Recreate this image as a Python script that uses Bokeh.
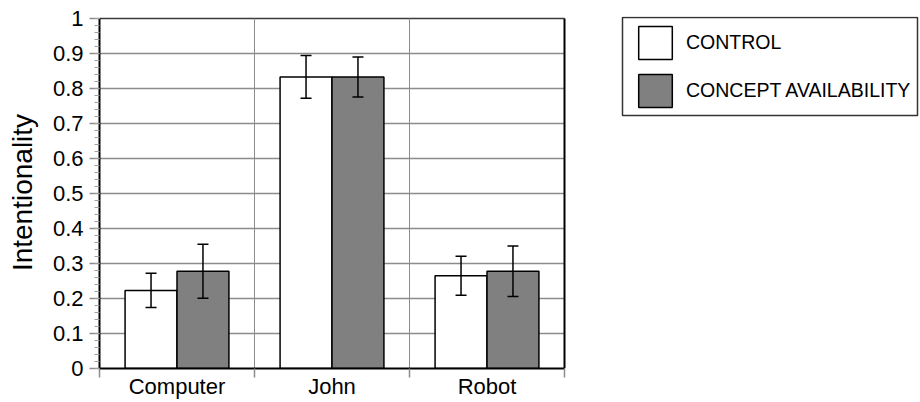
from bokeh.plotting import figure
from bokeh.models import (Range1d, FixedTicker, ColumnDataSource, Whisker, TeeHead,
                          Legend, LegendItem, BoxAnnotation)
from bokeh.embed import file_html
from bokeh.resources import INLINE

categories = ["Computer", "John", "Robot"]
control = [0.223, 0.833, 0.265]
control_err = [0.049, 0.061, 0.056]
concept = [0.278, 0.833, 0.278]
concept_err = [0.077, 0.057, 0.072]
series_names = ["CONTROL", "CONCEPT AVAILABILITY"]
y_ticks = [0, 0.1, 0.2, 0.3, 0.4, 0.5, 0.6, 0.7, 0.8, 0.9, 1]
y_tick_labels = ["0", "0.1", "0.2", "0.3", "0.4", "0.5", "0.6", "0.7", "0.8", "0.9", "1"]
y_minor_step = 0.02
y_label = "Intentionality"

FONT = "Liberation Sans"
GRID = "#8c8c8c"
BAR_W = 0.335
OFF = BAR_W / 2
CTRL_FILL = "white"
CONC_FILL = "#808080"

# layout (pixels): the chart area spans x 99..564, y 18..368; the frame continues
# to the right edge (and 2px higher) so that the legend can sit inside it
W, H = 920, 402
AREA_L, AREA_R, AREA_T, AREA_B = 99, 564, 18, 368
FRAME_T = 16

n = len(categories)
y_max = y_ticks[-1]


def x_at(px):
    return (px - AREA_L) * n / (AREA_R - AREA_L)


def y_at(py):
    return (AREA_B - py) * y_max / (AREA_B - AREA_T)


centers = [i + 0.5 for i in range(n)]
src = ColumnDataSource(dict(
    x_ctrl=[c - OFF for c in centers],
    x_conc=[c + OFF for c in centers],
    control=control,
    concept=concept,
    ctrl_lo=[v - e for v, e in zip(control, control_err)],
    ctrl_hi=[v + e for v, e in zip(control, control_err)],
    conc_lo=[v - e for v, e in zip(concept, concept_err)],
    conc_hi=[v + e for v, e in zip(concept, concept_err)],
))

p = figure(width=W, height=H, x_range=Range1d(0, x_at(W)),
           y_range=Range1d(0, y_at(FRAME_T)),
           output_backend="svg", toolbar_location=None,
           min_border_left=AREA_L, min_border_right=0, min_border_top=FRAME_T,
           min_border_bottom=H - AREA_B)
p.background_fill_color = "white"
p.border_fill_color = "white"
p.outline_line_color = None
p.xgrid.visible = False
p.ygrid.visible = False

# grid lines limited to the chart area
hy = y_ticks[1:-1]
p.segment(x0=[0] * len(hy), x1=[n] * len(hy), y0=hy, y1=hy,
          line_color=GRID, line_width=1.5, level="underlay")
p.segment(x0=[0], x1=[n], y0=[y_max], y1=[y_max],
          line_color="#3a3a3a", line_width=1.5, level="underlay")
vx = list(range(1, n))
p.segment(x0=vx, x1=vx, y0=[0] * len(vx), y1=[y_max] * len(vx),
          line_color=GRID, line_width=1, level="underlay")
p.segment(x0=[n], x1=[n], y0=[0], y1=[y_max], line_color="black", line_width=2)

# bars
r_ctrl = p.vbar(x="x_ctrl", top="control", width=BAR_W, source=src,
                fill_color=CTRL_FILL, line_color="black", line_width=1.5)
r_conc = p.vbar(x="x_conc", top="concept", width=BAR_W, source=src,
                fill_color=CONC_FILL, line_color="black", line_width=1.5)

for xb, lo, hi in (("x_ctrl", "ctrl_lo", "ctrl_hi"), ("x_conc", "conc_lo", "conc_hi")):
    w = Whisker(base=xb, lower=lo, upper=hi, source=src, line_width=1.5,
                line_color="black", level="overlay",
                upper_head=TeeHead(size=11, line_width=1.5, line_color="black"),
                lower_head=TeeHead(size=11, line_width=1.5, line_color="black"))
    p.add_layout(w)

# x axis
xa = p.xaxis[0]
xa.bounds = (0, n)
xa.ticker = FixedTicker(ticks=centers, minor_ticks=list(range(n + 1)))
xa.major_label_overrides = {c: name for c, name in zip(centers, categories)}
xa.major_tick_out = 0
xa.major_tick_in = 0
xa.minor_tick_out = 9
xa.minor_tick_in = 0
xa.minor_tick_line_color = GRID
xa.minor_tick_line_width = 1.5
xa.axis_line_color = "black"
xa.axis_line_width = 2
xa.major_label_standoff = -4
xa.major_label_text_font = FONT
xa.major_label_text_font_size = "22px"
xa.major_label_text_color = "black"

# y axis
ya = p.yaxis[0]
ya.bounds = (0, y_max)
minor = [round(k * y_minor_step, 4) for k in range(int(round(y_max / y_minor_step)) + 1)]
ya.ticker = FixedTicker(ticks=y_ticks, minor_ticks=minor)
ya.major_label_overrides = {t: lab for t, lab in zip(y_ticks, y_tick_labels)}
ya.major_tick_out = 10
ya.major_tick_in = 0
ya.major_tick_line_color = GRID
ya.major_tick_line_width = 1.5
ya.minor_tick_out = 5
ya.minor_tick_in = 0
ya.minor_tick_line_color = "#a0a0a0"
ya.minor_tick_line_width = 1
ya.axis_line_color = "black"
ya.axis_line_width = 2
ya.major_label_standoff = 6
ya.major_label_text_font = FONT
ya.major_label_text_font_size = "22px"
ya.major_label_text_color = "black"
ya.axis_label = y_label
ya.axis_label_text_font = FONT
ya.axis_label_text_font_size = "28px"
ya.axis_label_text_font_style = "normal"
ya.axis_label_text_color = "black"
ya.axis_label_standoff = 12

# legend: outer box plus the items, both inside the (extended) frame
box = BoxAnnotation(left=x_at(622), right=x_at(917), top=y_at(17), bottom=y_at(115),
                    fill_color="white", fill_alpha=1, line_color="#333333",
                    line_alpha=1, line_width=1.5)
p.add_layout(box)

leg = Legend(items=[LegendItem(label=series_names[0], renderers=[r_ctrl]),
                    LegendItem(label=series_names[1], renderers=[r_conc])],
             location=(535, 257), padding=0, margin=0, spacing=7,
             glyph_width=42, glyph_height=41, label_standoff=10,
             label_text_font=FONT, label_text_font_size="19.5px",
             label_text_color="black",
             border_line_alpha=0, background_fill_alpha=0)
p.add_layout(leg)

open("out.html", "w").write(file_html(p, INLINE))
